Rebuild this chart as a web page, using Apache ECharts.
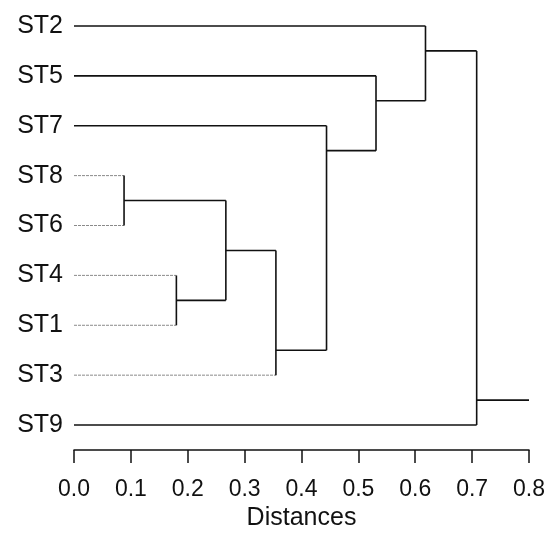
<!DOCTYPE html>
<html>
<head>
<meta charset="utf-8">
<script src="https://cdn.jsdelivr.net/npm/echarts@6/dist/echarts.min.js"></script>
<style>
html,body{margin:0;padding:0;background:#fff;}
#chart{width:550px;height:537px;}
</style>
</head>
<body>
<div id="chart"></div>
<script>
// ---- data ----
const leaves = ['ST2', 'ST5', 'ST7', 'ST8', 'ST6', 'ST4', 'ST1', 'ST3', 'ST9'];
// merges in order; new clusters are named C1..C8
const mergeLeft  = ['ST8', 'ST4', 'C1', 'C3',  'ST7', 'ST5', 'ST2', 'C7'];
const mergeRight = ['ST6', 'ST1', 'C2', 'ST3', 'C4',  'C5',  'C6',  'ST9'];
const mergeDist  = [0.088, 0.180, 0.267, 0.355, 0.444, 0.531, 0.618, 0.708];
const rootTailEnd = 0.8;
const xTicks = ['0.0', '0.1', '0.2', '0.3', '0.4', '0.5', '0.6', '0.7', '0.8'];
const axisName = 'Distances';

// ---- styles (kept apart from data) ----
const faintLeaves = ['ST8', 'ST6', 'ST4', 'ST1', 'ST3'];
const FONT = '"Liberation Sans", Arial, sans-serif';
const solidStyle = { color: '#111', width: 1.6 };
const faintStyle = { color: '#8a8a8a', width: 1, type: [3, 1] };

// ---- layout of the tree ----
const nodes = {};
leaves.forEach((n, i) => { nodes[n] = { h: 0, y: i, leaf: true }; });
mergeLeft.forEach((a, k) => {
  const A = nodes[a], B = nodes[mergeRight[k]];
  let y;
  if (A.leaf && !B.leaf) y = A.y + 0.5 * Math.sign(B.y - A.y);
  else if (B.leaf && !A.leaf) y = B.y + 0.5 * Math.sign(A.y - B.y);
  else y = (A.y + B.y) / 2;
  nodes['C' + (k + 1)] = { h: mergeDist[k], y: y, leaf: false };
});

const series = [];
function seg(p1, p2, style) {
  series.push({
    type: 'line', yAxisIndex: 1, symbol: 'none', silent: true,
    lineStyle: style, data: [p1, p2], z: style === faintStyle ? 2 : 3
  });
}
mergeLeft.forEach((a, k) => {
  const b = mergeRight[k];
  const d = mergeDist[k];
  [a, b].forEach(c => {
    const N = nodes[c];
    seg([N.h, N.y], [d, N.y], faintLeaves.includes(c) ? faintStyle : solidStyle);
  });
  seg([d, nodes[a].y], [d, nodes[b].y], solidStyle);
});
const root = nodes['C' + mergeLeft.length];
seg([root.h, root.y], [rootTailEnd, root.y], solidStyle);

const chart = echarts.init(document.getElementById('chart'), null, { renderer: 'canvas' });
chart.setOption({
  animation: false,
  backgroundColor: '#fff',
  grid: { left: 74, right: 21, top: 1, bottom: 87, containLabel: false },
  xAxis: {
    type: 'value', min: 0, max: 0.8, interval: 0.1, position: 'bottom',
    name: axisName, nameLocation: 'middle', nameGap: 56,
    nameTextStyle: { fontSize: 25, color: '#111', fontFamily: FONT },
    axisLine: { show: true, onZero: false, lineStyle: { color: '#111', width: 1.5 } },
    axisTick: { show: true, inside: false, length: 13, lineStyle: { color: '#111', width: 1.5 } },
    splitLine: { show: false },
    axisLabel: {
      margin: 28, fontSize: 23, color: '#111', fontFamily: FONT,
      formatter: (v) => xTicks[Math.round(v * 10)]
    }
  },
  yAxis: [
    {
      type: 'category', data: leaves, inverse: true,
      axisLine: { show: false }, axisTick: { show: false }, splitLine: { show: false },
      axisLabel: { margin: 11, fontSize: 25, color: '#111', fontFamily: FONT }
    },
    {
      type: 'value', inverse: true, min: -0.5, max: 8.5, show: false,
      splitLine: { show: false }
    }
  ],
  series: series
});
</script>
</body>
</html>
